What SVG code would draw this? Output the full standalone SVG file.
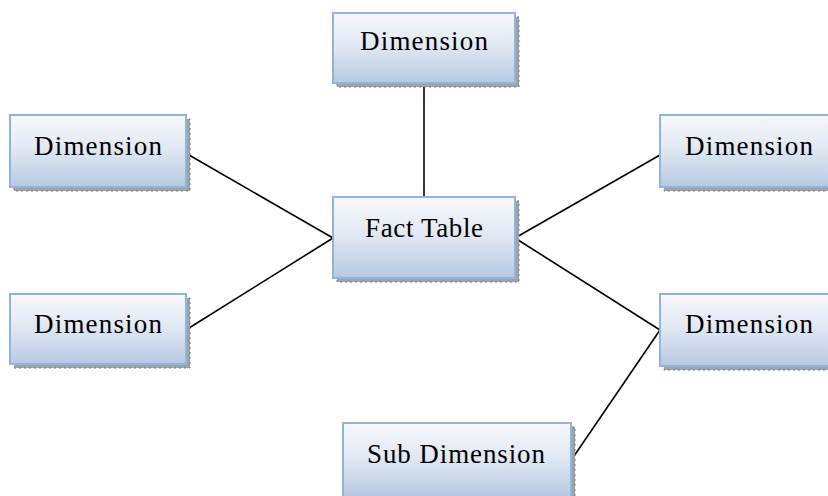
<svg xmlns="http://www.w3.org/2000/svg" width="828" height="496" viewBox="0 0 828 496">
<defs>
<linearGradient id="g" x1="0" y1="0" x2="0" y2="1">
<stop offset="0" stop-color="#f6f8fc"/>
<stop offset="0.45" stop-color="#e2e9f3"/>
<stop offset="1" stop-color="#b6c9e2"/>
</linearGradient>
<style>
.sh{fill:#9aa3b0;stroke:#6f7a8a;stroke-width:1;stroke-dasharray:2 3}
.bx{fill:url(#g);stroke:#95b3d7;stroke-width:2}
.t{font-family:"Liberation Serif","DejaVu Serif",serif;font-size:27px;fill:#000;text-anchor:middle}
.c{stroke:#000;stroke-width:1.6;fill:none}
</style>
</defs>
<rect width="828" height="496" fill="#fff"/>
<g id="connectors">
<line class="c" x1="424" y1="86" x2="424" y2="197"/>
<line class="c" x1="189" y1="155" x2="333" y2="238"/>
<line class="c" x1="189" y1="328" x2="333" y2="238"/>
<line class="c" x1="515" y1="238" x2="660" y2="155"/>
<line class="c" x1="515" y1="238" x2="660" y2="330"/>
<line class="c" x1="572" y1="459" x2="660" y2="330"/>
</g>
<g id="dim-top">
<rect class="sh" x="337" y="17" width="182" height="70"/>
<rect class="bx" x="333" y="13" width="182" height="70"/>
<text class="t" x="424" y="50" textLength="128" lengthAdjust="spacing">Dimension</text>
</g>
<g id="fact">
<rect class="sh" x="337" y="201" width="182" height="81"/>
<rect class="bx" x="333" y="197" width="182" height="81"/>
<text class="t" x="424" y="237" textLength="118" lengthAdjust="spacing">Fact Table</text>
</g>
<g id="dim-left-top">
<rect class="sh" x="14" y="119" width="176" height="72"/>
<rect class="bx" x="10" y="115" width="176" height="72"/>
<text class="t" x="98" y="155" textLength="128" lengthAdjust="spacing">Dimension</text>
</g>
<g id="dim-left-bottom">
<rect class="sh" x="14" y="298" width="176" height="70"/>
<rect class="bx" x="10" y="294" width="176" height="70"/>
<text class="t" x="98" y="333" textLength="128" lengthAdjust="spacing">Dimension</text>
</g>
<g id="dim-right-top">
<rect class="sh" x="664" y="119" width="182" height="72"/>
<rect class="bx" x="660" y="115" width="182" height="72"/>
<text class="t" x="749" y="155" textLength="128" lengthAdjust="spacing">Dimension</text>
</g>
<g id="dim-right-bottom">
<rect class="sh" x="664" y="298" width="182" height="72"/>
<rect class="bx" x="660" y="294" width="182" height="72"/>
<text class="t" x="749" y="333" textLength="128" lengthAdjust="spacing">Dimension</text>
</g>
<g id="sub-dim">
<rect class="sh" x="347" y="427" width="228" height="74"/>
<rect class="bx" x="343" y="423" width="228" height="74"/>
<text class="t" x="456" y="463" textLength="178" lengthAdjust="spacing">Sub Dimension</text>
</g>
</svg>
